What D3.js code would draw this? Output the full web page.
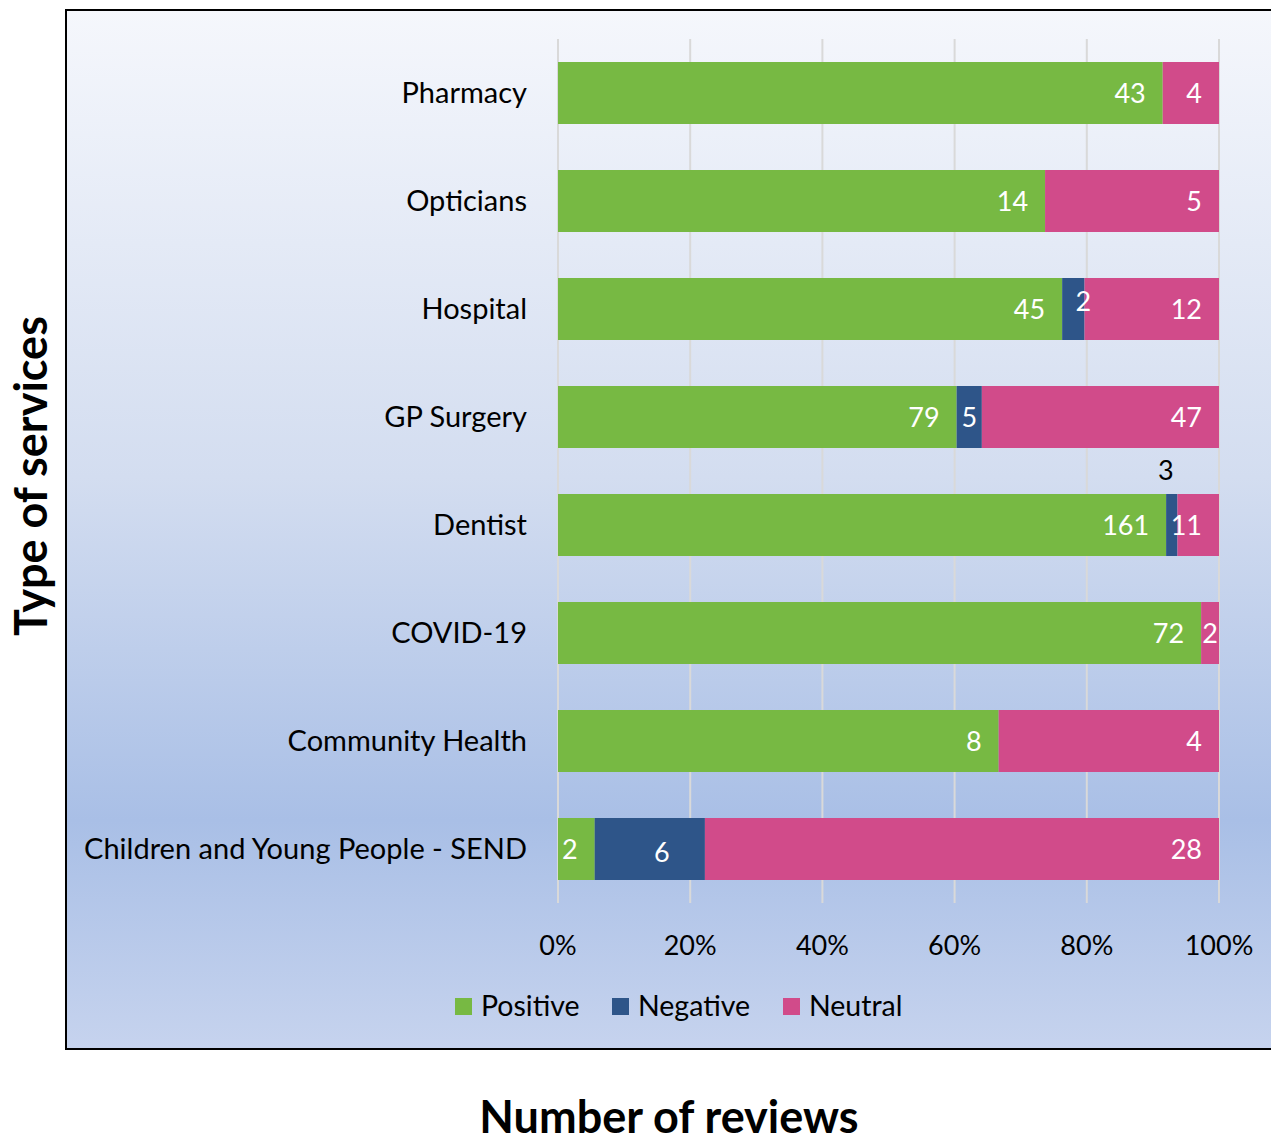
<!DOCTYPE html>
<html>
<head>
<meta charset="utf-8">
<script src="https://cdn.jsdelivr.net/npm/d3@7"></script>
<style>
  body { margin: 0; background: #fff; }
  text { font-family: Lato, "Noto Sans", sans-serif; }
</style>
</head>
<body>
<svg id="chart" width="1271" height="1141"></svg>
<script>
// categories top to bottom
var categories = ["Pharmacy", "Opticians", "Hospital", "GP Surgery", "Dentist",
  "COVID-19", "Community Health", "Children and Young People - SEND"];
var positive = [43, 14, 45, 79, 161, 72, 8, 2];
var negative = [0, 0, 2, 5, 3, 0, 0, 6];
var neutral  = [4, 5, 12, 47, 11, 2, 4, 28];
var seriesNames = ["Positive", "Negative", "Neutral"];
var seriesColors = ["#77b943", "#2e5589", "#d14b8a"];
var xTicks = [0, 0.2, 0.4, 0.6, 0.8, 1];

var svg = d3.select("#chart");

// background gradient of the chart area
var grad = svg.append("defs").append("linearGradient")
  .attr("id", "bg").attr("x1", 0).attr("y1", 0).attr("x2", 0).attr("y2", 1);
grad.append("stop").attr("offset", "0%").attr("stop-color", "#f5f7fc");
grad.append("stop").attr("offset", "45%").attr("stop-color", "#d3ddf0");
grad.append("stop").attr("offset", "78%").attr("stop-color", "#a9bfe6");
grad.append("stop").attr("offset", "100%").attr("stop-color", "#c6d3ee");

svg.append("rect")
  .attr("x", 66).attr("y", 10).attr("width", 1240).attr("height", 1039)
  .attr("fill", "url(#bg)").attr("stroke", "#000").attr("stroke-width", 2);

var x = d3.scaleLinear().domain([0, 1]).range([558, 1219]);
var y = d3.scaleBand().domain(categories).range([39, 903]).paddingInner(0.426).paddingOuter(0.213);

// gridlines
svg.append("g").selectAll("line").data(xTicks).enter().append("line")
  .attr("x1", function(d) { return x(d); }).attr("x2", function(d) { return x(d); })
  .attr("y1", 39).attr("y2", 903)
  .attr("stroke", "#d9d9d9").attr("stroke-width", 2);

// stack the shares
var rows = categories.map(function(c, i) {
  var tot = positive[i] + negative[i] + neutral[i];
  return { cat: c, vals: [positive[i], negative[i], neutral[i]], tot: tot };
});

var segs = [];
rows.forEach(function(r) {
  var acc = 0;
  r.vals.forEach(function(v, k) {
    var x0 = acc / r.tot; acc += v;
    if (v > 0) segs.push({ cat: r.cat, k: k, v: v, x0: x0, x1: acc / r.tot });
  });
});

svg.append("g").selectAll("rect").data(segs).enter().append("rect")
  .attr("x", function(d) { return x(d.x0); })
  .attr("y", function(d) { return y(d.cat); })
  .attr("width", function(d) { return x(d.x1) - x(d.x0); })
  .attr("height", y.bandwidth())
  .attr("fill", function(d) { return seriesColors[d.k]; });

// data labels
var lab = svg.append("g").attr("font-size", 27);
segs.forEach(function(d) {
  var a = x(d.x0), b = x(d.x1), w = b - a;
  var tw = String(d.v).length * 14;
  var cy = y(d.cat) + y.bandwidth() / 2;
  var t = lab.append("text").text(d.v).attr("dy", "0.36em").attr("y", cy);
  if (w < 14) {
    // too thin: put it above the bar
    t.attr("x", (a + b) / 2 - 6).attr("y", y(d.cat) - 24).attr("text-anchor", "middle").attr("fill", "#000");
  } else if (d.k == 1) {
    // negative labels sit a bit off centre, like the original
    var off = w > 60 ? 12 : (w < 24 ? 10 : 0);
    t.attr("x", (a + b) / 2 + off).attr("y", cy + (w > 60 ? 3 : (w < 24 ? -8 : 0)))
      .attr("text-anchor", "middle").attr("fill", "#fff");
  } else if (w < tw + 6) {
    t.attr("x", (a + b) / 2).attr("text-anchor", "middle").attr("fill", "#fff");
  } else {
    t.attr("x", b - 17).attr("text-anchor", "end").attr("fill", "#fff");
  }
});

// category labels
svg.append("g").selectAll("text").data(categories).enter().append("text")
  .attr("x", 527).attr("y", function(d) { return y(d) + y.bandwidth() / 2; })
  .attr("dy", "0.36em").attr("text-anchor", "end").attr("font-size", 29)
  .attr("fill", "#000").text(function(d) { return d; });

// x tick labels
svg.append("g").selectAll("text").data(xTicks).enter().append("text")
  .attr("x", function(d) { return x(d); }).attr("y", 945)
  .attr("dy", "0.36em").attr("text-anchor", "middle").attr("font-size", 27)
  .text(d3.format(".0%"));

// legend
var lg = svg.append("g").attr("transform", "translate(455,1006)");
var lx = [0, 157, 328];
seriesNames.forEach(function(s, i) {
  lg.append("rect").attr("x", lx[i]).attr("y", -8).attr("width", 17).attr("height", 17)
    .attr("fill", seriesColors[i]);
  lg.append("text").attr("x", lx[i] + 26).attr("y", 0).attr("dy", "0.36em")
    .attr("font-size", 28.5).text(s);
});

// axis titles
svg.append("text").attr("x", 669).attr("y", 1133).attr("text-anchor", "middle")
  .attr("font-size", 45).attr("font-weight", "bold").text("Number of reviews");
svg.append("text").attr("transform", "translate(47,476) rotate(-90)")
  .attr("text-anchor", "middle").attr("font-size", 45).attr("font-weight", "bold")
  .text("Type of services");
</script>
</body>
</html>
